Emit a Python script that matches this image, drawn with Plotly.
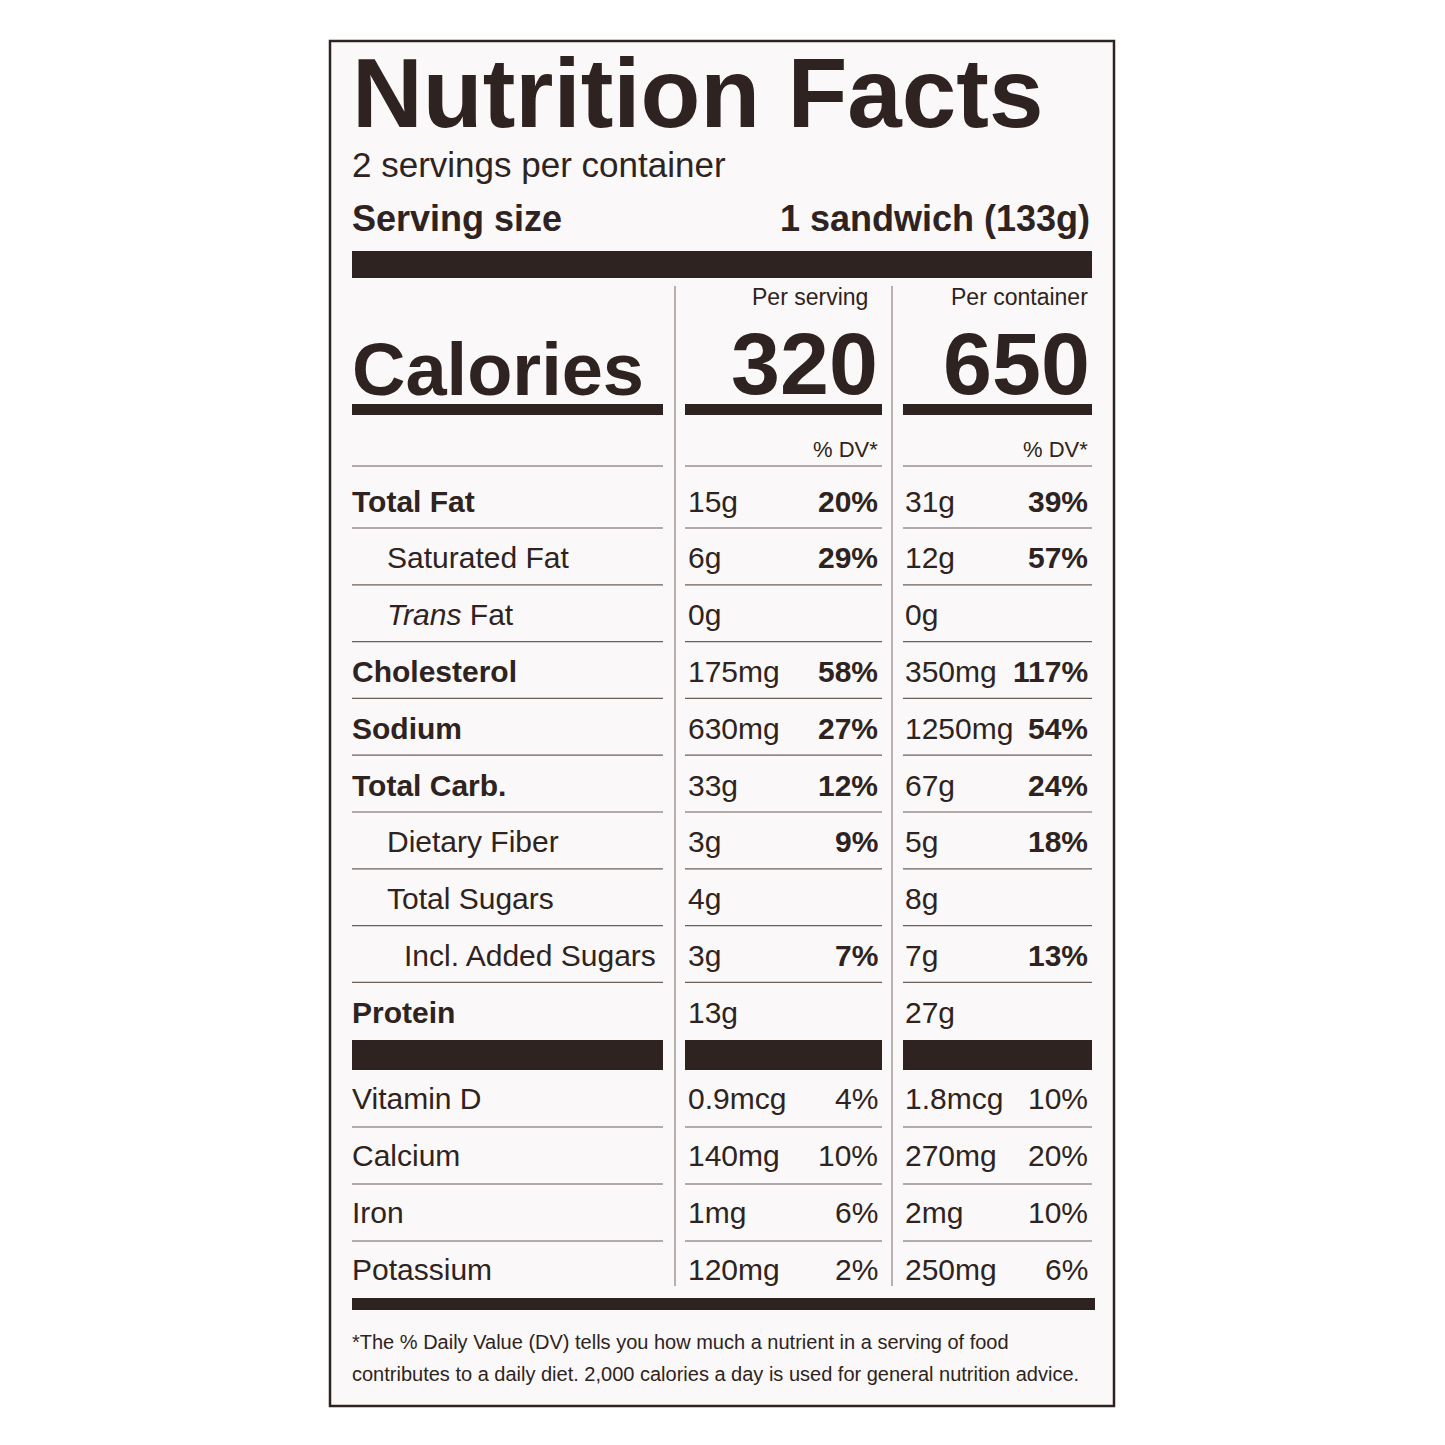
import plotly.graph_objects as go

INK = "#2e2320"
FONT = "Liberation Sans"

nutrients = ["Total Fat", "Saturated Fat", "<i>Trans</i> Fat", "Cholesterol", "Sodium",
             "Total Carb.", "Dietary Fiber", "Total Sugars", "Incl. Added Sugars", "Protein"]
indent = [0, 1, 1, 0, 0, 0, 1, 1, 2, 0]
serv_amt = ["15g", "6g", "0g", "175mg", "630mg", "33g", "3g", "4g", "3g", "13g"]
serv_dv = ["20%", "29%", "", "58%", "27%", "12%", "9%", "", "7%", ""]
cont_amt = ["31g", "12g", "0g", "350mg", "1250mg", "67g", "5g", "8g", "7g", "27g"]
cont_dv = ["39%", "57%", "", "117%", "54%", "24%", "18%", "", "13%", ""]

vitamins = ["Vitamin D", "Calcium", "Iron", "Potassium"]
vit_serv_amt = ["0.9mcg", "140mg", "1mg", "120mg"]
vit_serv_dv = ["4%", "10%", "6%", "2%"]
vit_cont_amt = ["1.8mcg", "270mg", "2mg", "250mg"]
vit_cont_dv = ["10%", "20%", "10%", "6%"]

calories_serv = "320"
calories_cont = "650"

fig = go.Figure()
shapes = []
ann = []


def text(x, y, s, size, bold=False, anchor="left"):
    if bold:
        s = "<b>" + s + "</b>"
    ann.append(dict(x=x, y=y, text=s, showarrow=False, xanchor=anchor, yanchor="middle",
                    font=dict(family=FONT, size=size, color=INK)))


def rect(x0, y0, x1, y1):
    shapes.append(dict(type="rect", x0=x0, y0=y0, x1=x1, y1=y1, fillcolor=INK, line=dict(width=0)))


def hline(x0, x1, y, w=1.2, color="#6b5f5a"):
    shapes.append(dict(type="line", x0=x0, x1=x1, y0=y, y1=y, line=dict(color=color, width=w)))


# border and background
shapes.append(dict(type="rect", x0=330, y0=40, x1=1114, y1=1405, fillcolor="#faf8f8",
                   line=dict(color=INK, width=2.5), layer="below"))

text(350, 92, "Nutrition Facts", 98, bold=True)
text(350, 163, "2 servings per container", 35)
text(350, 217, "Serving size", 36, bold=True)
text(1092, 217, "1 sandwich (133g)", 36, bold=True, anchor="right")
rect(352, 250, 1092, 277)

# column dividers
for x in (675, 892):
    shapes.append(dict(type="line", x0=x, x1=x, y0=285, y1=1285, line=dict(color="#8a807c", width=1.2)))

text(870, 296, "Per serving", 23, anchor="right")
text(1090, 296, "Per container", 23, anchor="right")
text(350, 368, "Calories", 74, bold=True)
text(880, 362, calories_serv, 88, bold=True, anchor="right")
text(1092, 362, calories_cont, 88, bold=True, anchor="right")

cols = [(352, 663), (685, 882), (903, 1092)]
for x0, x1 in cols:
    rect(x0, 403, x1, 414)
    rect(x0, 1039, x1, 1069)
    hline(x0, x1, 465)
text(880, 448, "% DV*", 22, anchor="right")
text(1090, 448, "% DV*", 22, anchor="right")

row_y0 = 500
step = 56.8
for i, name in enumerate(nutrients):
    y = row_y0 + i * step
    b = indent[i] == 0
    text(350 + [0, 35, 52][indent[i]], y, name, 30, bold=b)
    text(686, y, serv_amt[i], 30)
    text(880, y, serv_dv[i], 30, bold=True, anchor="right")
    text(903, y, cont_amt[i], 30)
    text(1090, y, cont_dv[i], 30, bold=True, anchor="right")
    if i < len(nutrients) - 1:
        for x0, x1 in cols:
            hline(x0, x1, y + 27)

for i, name in enumerate(vitamins):
    y = 1097 + i * 57
    text(350, y, name, 30)
    text(686, y, vit_serv_amt[i], 30)
    text(880, y, vit_serv_dv[i], 30, anchor="right")
    text(903, y, vit_cont_amt[i], 30)
    text(1090, y, vit_cont_dv[i], 30, anchor="right")
    if i < len(vitamins) - 1:
        for x0, x1 in cols:
            hline(x0, x1, y + 29)

rect(352, 1297, 1095, 1309)
text(350, 1341, "*The % Daily Value (DV) tells you how much a nutrient in a serving of food", 20)
text(350, 1373, "contributes to a daily diet. 2,000 calories a day is used for general nutrition advice.", 20)

# page body margin pushes the plot ~8px right/down, so shift ranges to compensate
fig.update_layout(width=1445, height=1445, margin=dict(l=0, r=0, t=0, b=0),
                  paper_bgcolor="white", plot_bgcolor="white", shapes=shapes, annotations=ann,
                  xaxis=dict(range=[8, 1453], visible=False, fixedrange=True),
                  yaxis=dict(range=[1452, 7], visible=False, fixedrange=True),
                  showlegend=False)
fig.write_html("out.html")
